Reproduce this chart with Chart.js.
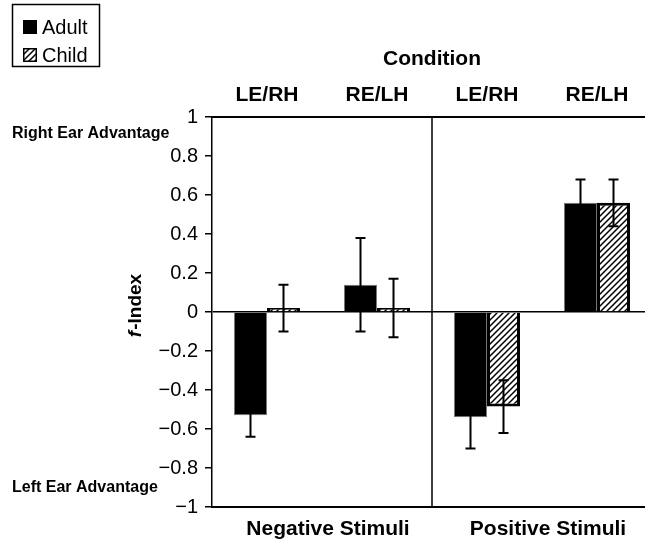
<!DOCTYPE html>
<html>
<head>
<meta charset="utf-8">
<script src="https://cdn.jsdelivr.net/npm/chart.js@4"></script>
<style>
html, body { margin: 0; padding: 0; background: #fff; overflow: hidden; width: 645px; height: 545px; }
#wrap { width: 670px; height: 545px; }
</style>
</head>
<body>
<div id="wrap"><canvas id="myChart" width="670" height="545"></canvas></div>
<script>
const conditions = ['LE/RH', 'RE/LH', 'LE/RH', 'RE/LH'];
const stimuli = ['Negative Stimuli', 'Positive Stimuli'];
const adult = [-0.53, 0.14, -0.54, 0.56];
const child = [0.02, 0.02, -0.485, 0.56];
const adultErr = [0.11, 0.24, 0.16, 0.12];
const childErr = [0.12, 0.15, 0.135, 0.12];

const FONT = "'Liberation Sans', Arial, Helvetica, sans-serif";
Chart.defaults.font.family = FONT;
Chart.defaults.color = '#000';

const canvas = document.getElementById('myChart');

// diagonal hatch for the Child bars
const hatch = (() => {
    const c = document.createElement('canvas');
    c.width = 6; c.height = 6;
    const g = c.getContext('2d');
    g.fillStyle = '#fff';
    g.fillRect(0, 0, 6, 6);
    g.strokeStyle = '#000';
    g.lineWidth = 1.5;
    g.beginPath();
    g.moveTo(-1, 7); g.lineTo(7, -1);
    g.moveTo(-1, 1); g.lineTo(1, -1);
    g.moveTo(5, 7); g.lineTo(7, 5);
    g.stroke();
    return canvas.getContext('2d').createPattern(c, 'repeat');
})();

const fmt = v => {
    const r = Math.round(v * 10) / 10;
    return r < 0 ? '\u2212' + Math.abs(r) : String(r);
};

const errorBars = {
    id: 'errorBars',
    afterDatasetsDraw(chart) {
        const {ctx, scales: {y}} = chart;
        const errs = [adultErr, childErr];
        ctx.save();
        ctx.strokeStyle = '#000';
        ctx.lineWidth = 2;
        chart.data.datasets.forEach((ds, i) => {
            chart.getDatasetMeta(i).data.forEach((bar, j) => {
                const v = ds.data[j], e = errs[i][j];
                const top = y.getPixelForValue(v + e);
                const bot = y.getPixelForValue(v - e);
                ctx.beginPath();
                ctx.moveTo(bar.x, top); ctx.lineTo(bar.x, bot);
                ctx.moveTo(bar.x - 5, top); ctx.lineTo(bar.x + 5, top);
                ctx.moveTo(bar.x - 5, bot); ctx.lineTo(bar.x + 5, bot);
                ctx.stroke();
            });
        });
        ctx.restore();
    }
};

const decorations = {
    id: 'decorations',
    beforeDatasetsDraw(chart) {
        // divider between negative and positive stimuli
        const {ctx, chartArea, scales: {x}} = chart;
        const xm = (x.getPixelForTick(1) + x.getPixelForTick(2)) / 2;
        ctx.save();
        ctx.strokeStyle = '#000';
        ctx.lineWidth = 1.5;
        ctx.beginPath();
        ctx.moveTo(xm, chartArea.top);
        ctx.lineTo(xm, chartArea.bottom);
        ctx.stroke();
        ctx.restore();
    },
    afterDraw(chart) {
        const ctx = chart.ctx;
        ctx.save();
        // legend
        ctx.strokeStyle = '#000';
        ctx.lineWidth = 1.5;
        ctx.strokeRect(12.5, 4.5, 87, 62);
        ctx.fillStyle = '#000';
        ctx.fillRect(23, 20, 14, 14);
        ctx.fillStyle = hatch;
        ctx.fillRect(23, 48, 14, 14);
        ctx.strokeRect(23.75, 48.75, 12.5, 12.5);
        ctx.fillStyle = '#000';
        ctx.font = '20px ' + FONT;
        ctx.textBaseline = 'alphabetic';
        ctx.textAlign = 'left';
        ctx.fillText('Adult', 42, 34);
        ctx.fillText('Child', 42, 62);

        // side notes
        ctx.font = 'bold 16px ' + FONT;
        ctx.textBaseline = 'middle';
        ctx.fillText('Right Ear Advantage', 12, 134);
        ctx.fillText('Left Ear Advantage', 12, 488);

        // y axis title with italic f
        ctx.translate(136, 306);
        ctx.rotate(-Math.PI / 2);
        const fFont = 'italic bold 19px ' + FONT;
        const rFont = 'bold 19px ' + FONT;
        ctx.font = fFont;
        const wf = ctx.measureText('f').width;
        ctx.font = rFont;
        const wr = ctx.measureText('-Index').width;
        let sx = -(wf + wr) / 2;
        ctx.font = fFont;
        ctx.fillText('f', sx, 0);
        ctx.font = rFont;
        ctx.fillText('-Index', sx + wf + 1, 0);
        ctx.restore();
    }
};

new Chart(canvas, {
    type: 'bar',
    data: {
        labels: conditions,
        datasets: [{
            label: 'Adult',
            data: adult,
            backgroundColor: '#000',
            borderColor: '#777',
            borderWidth: 1
        }, {
            label: 'Child',
            data: child,
            backgroundColor: hatch,
            borderColor: '#000',
            borderWidth: 3
        }]
    },
    options: {
        responsive: false,
        animation: false,
        categoryPercentage: 0.6,
        barPercentage: 1.0,
        layout: { padding: { left: 0, right: 18, top: 0, bottom: 0 } },
        plugins: {
            legend: { display: false },
            tooltip: { enabled: false }
        },
        scales: {
            x: {
                position: 'top',
                offset: true,
                grid: { display: false, drawTicks: false },
                border: { display: true, color: '#000', width: 2 },
                ticks: { color: '#000', font: { size: 21, weight: 'bold' }, padding: 9, maxRotation: 0 },
                title: {
                    display: true,
                    text: 'Condition',
                    color: '#000',
                    font: { size: 21, weight: 'bold' },
                    padding: { top: 47, bottom: 0 }
                },
                afterFit: s => { s.height = 117; }
            },
            x2: {
                type: 'category',
                labels: stimuli,
                position: 'bottom',
                offset: true,
                grid: { display: false, drawTicks: false },
                border: { display: true, color: '#000', width: 2 },
                ticks: { color: '#000', font: { size: 21, weight: 'bold' }, padding: 10, maxRotation: 0, labelOffset: 6 },
                afterFit: s => { s.height = 38; }
            },
            y: {
                min: -1,
                max: 1,
                ticks: { stepSize: 0.2, color: '#000', font: { size: 20 }, padding: 7, callback: fmt },
                grid: {
                    color: c => (c.tick && Math.abs(c.tick.value) < 1e-9) ? '#000' : 'rgba(0,0,0,0)',
                    lineWidth: 1.5,
                    tickColor: '#000',
                    tickLength: 7,
                    drawTicks: true
                },
                border: { display: true, color: '#000', width: 1.5 },
                afterFit: s => { s.width = 212; }
            }
        }
    },
    plugins: [decorations, errorBars]
});
</script>
</body>
</html>
